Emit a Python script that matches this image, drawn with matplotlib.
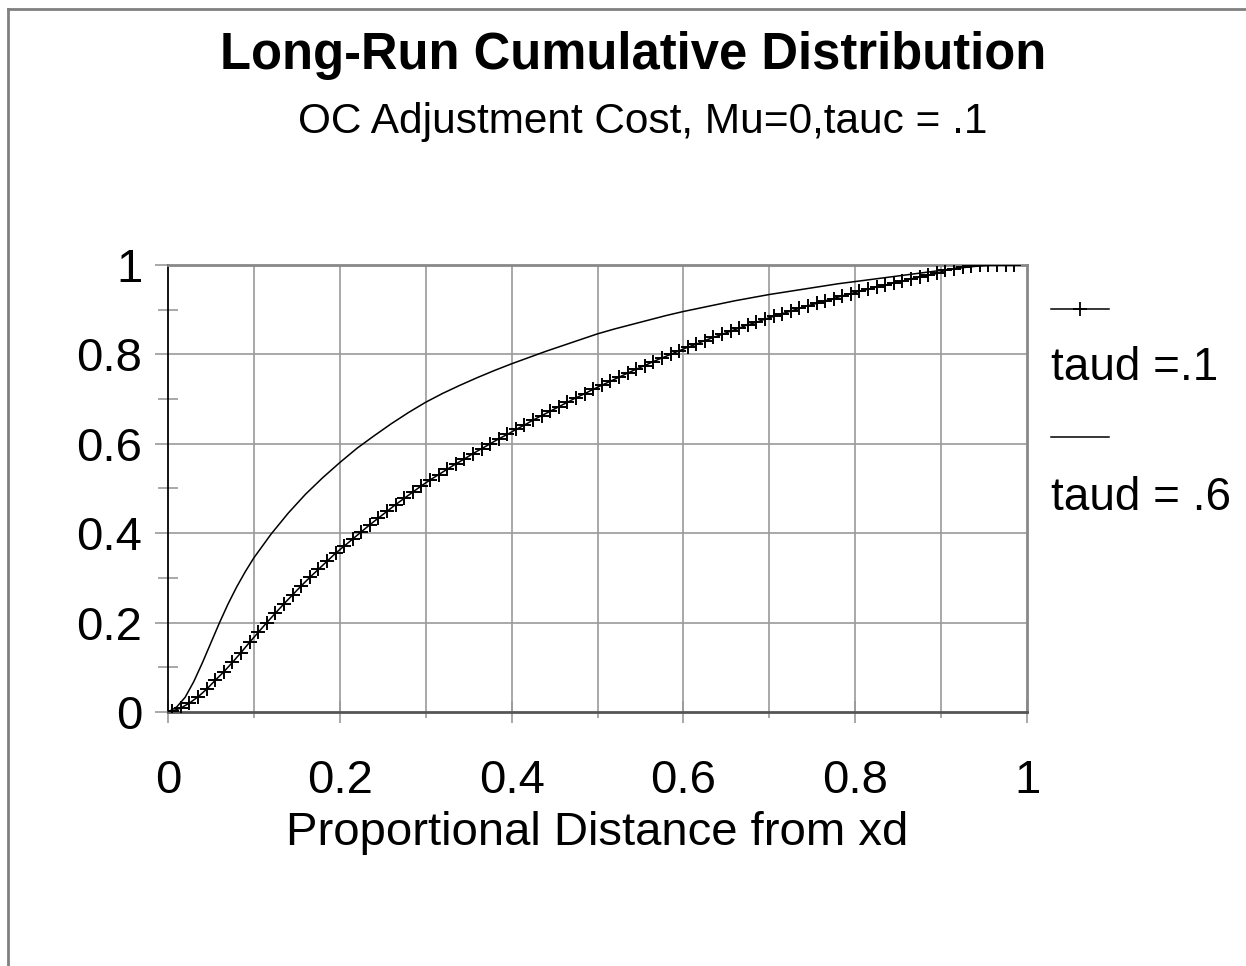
import numpy as np
import matplotlib.pyplot as plt
from matplotlib.lines import Line2D
from matplotlib.ticker import MultipleLocator

plt.rcParams["font.family"] = ["Liberation Sans", "DejaVu Sans"]

# =====================================================
# DATA
# =====================================================

# taud = .1 -> one marker every 0.01
x_taud1 = np.arange(0.005, 0.99, 0.01)
y_taud1 = [
    0.002, 0.009, 0.020, 0.034, 0.051, 0.071, 0.090, 0.111, 0.133, 0.156,
    0.178, 0.200, 0.221, 0.242, 0.262, 0.282, 0.301, 0.319, 0.337, 0.355,
    0.371, 0.387, 0.403, 0.419, 0.434, 0.449, 0.464, 0.478, 0.492, 0.506,
    0.519, 0.531, 0.543, 0.555, 0.566, 0.578, 0.589, 0.600, 0.611, 0.621,
    0.632, 0.642, 0.653, 0.663, 0.673, 0.683, 0.693, 0.703, 0.712, 0.722,
    0.731, 0.740, 0.749, 0.758, 0.767, 0.775, 0.784, 0.792, 0.800, 0.808,
    0.816, 0.823, 0.831, 0.838, 0.845, 0.852, 0.859, 0.866, 0.872, 0.879,
    0.885, 0.891, 0.897, 0.903, 0.909, 0.914, 0.920, 0.925, 0.931, 0.936,
    0.941, 0.946, 0.951, 0.955, 0.960, 0.964, 0.969, 0.973, 0.977, 0.981,
    0.988, 0.992, 0.995, 0.997, 0.999, 1.000, 1.000, 1.000, 1.000,
]

# taud = .6 -> plain line
x_taud6 = [
    0.00, 0.01, 0.02, 0.03, 0.04, 0.05, 0.06, 0.07, 0.08, 0.09, 0.10,
    0.12, 0.14, 0.16, 0.18, 0.20, 0.22, 0.24, 0.26, 0.28, 0.30,
    0.32, 0.34, 0.36, 0.38, 0.40, 0.42, 0.44, 0.46, 0.48, 0.50,
    0.52, 0.54, 0.56, 0.58, 0.60, 0.62, 0.64, 0.66, 0.68, 0.70,
    0.72, 0.74, 0.76, 0.78, 0.80, 0.82, 0.84, 0.86, 0.88, 0.90,
    0.92, 0.94, 0.96, 0.98,
]
y_taud6 = [
    0.000, 0.011, 0.033, 0.068, 0.110, 0.155, 0.200, 0.242, 0.280, 0.314, 0.345,
    0.398, 0.445, 0.487, 0.524, 0.558, 0.590, 0.618, 0.645, 0.670, 0.693,
    0.713, 0.731, 0.748, 0.764, 0.779, 0.793, 0.807, 0.820, 0.833, 0.846,
    0.857, 0.867, 0.877, 0.887, 0.896, 0.904, 0.912, 0.920, 0.927, 0.934,
    0.940, 0.946, 0.952, 0.958, 0.963, 0.968, 0.973, 0.978, 0.983, 0.988,
    0.993, 0.997, 1.000, 1.000,
]

labels = ["taud =.1", "taud = .6"]

# =====================================================
# FIGURE
# =====================================================

W, H = 1246, 966
fig = plt.figure(figsize=(W / 100, H / 100), dpi=100)
ax = fig.add_axes([168 / W, 1 - 712 / H, (1027 - 168) / W, (712 - 265) / H])

GRID = "#9a9a9a"

ax.plot(x_taud1, y_taud1, color="black", lw=1.1, marker="+",
        ms=10, mew=1.4, zorder=3)
ax.plot(x_taud6, y_taud6, color="black", lw=1.1, zorder=3)

ax.set_xlim(0, 1)
ax.set_ylim(0, 1)

# grid: verticals every 0.1, horizontals every 0.2
for gx in np.arange(0.1, 1.0, 0.1):
    ax.axvline(gx, color=GRID, lw=1.2, zorder=1)
for gy in np.arange(0.2, 1.0, 0.2):
    ax.axhline(gy, color=GRID, lw=1.2, zorder=1)

ax.xaxis.set_major_locator(MultipleLocator(0.2))
ax.xaxis.set_minor_locator(MultipleLocator(0.1))
ax.yaxis.set_major_locator(MultipleLocator(0.2))
ax.yaxis.set_minor_locator(MultipleLocator(0.1))
ax.xaxis.set_major_formatter(plt.FuncFormatter(lambda v, p: f"{v:g}"))
ax.yaxis.set_major_formatter(plt.FuncFormatter(lambda v, p: f"{v:g}"))

ax.tick_params(axis="x", which="major", direction="inout", length=16,
               width=1.2, color=GRID, labelsize=34, pad=26)
ax.tick_params(axis="x", which="minor", direction="out", length=4.5,
               width=1.2, color=GRID)
ax.tick_params(axis="y", which="major", direction="out", length=9.5,
               width=1.2, color=GRID, labelsize=34, pad=9)
ax.tick_params(axis="y", which="minor", direction="inout", length=14,
               width=1.2, color=GRID)

ax.spines["left"].set_color("black")
ax.spines["left"].set_linewidth(1.3)
ax.spines["bottom"].set_color("#555555")
ax.spines["bottom"].set_linewidth(2)
ax.spines["top"].set_color("#888888")
ax.spines["top"].set_linewidth(2)
ax.spines["right"].set_color("#888888")
ax.spines["right"].set_linewidth(2)

ax.set_xlabel("Proportional Distance from xd", fontsize=34)
ax.xaxis.set_label_coords(0.5, -0.222)

# titles
fig.text(633 / W, 1 - 55 / H, "Long-Run Cumulative Distribution",
         ha="center", va="center", fontsize=36.5, fontweight="bold")
fig.text(643 / W, 1 - 122 / H, "OC Adjustment Cost, Mu=0,tauc = .1",
         ha="center", va="center", fontsize=30.5)

# legend drawn by hand: sample line above each label
fig.add_artist(Line2D([1051 / W, 1109 / W], [1 - 309 / H, 1 - 309 / H],
                      color="black", lw=1.1))
fig.add_artist(Line2D([1080 / W], [1 - 309 / H], color="black",
                      marker="+", ms=10, mew=1.3))
fig.text(1051 / W, 1 - 368 / H, labels[0], ha="left", va="center", fontsize=33)
fig.add_artist(Line2D([1051 / W, 1109 / W], [1 - 437 / H, 1 - 437 / H],
                      color="black", lw=1.1))
fig.text(1051 / W, 1 - 498 / H, labels[1], ha="left", va="center", fontsize=33)

# outer frame (left and top edges visible in the reference)
fig.add_artist(Line2D([8 / W, 8 / W], [0, 1 - 9 / H], color="#808080", lw=2))
fig.add_artist(Line2D([8 / W, 1], [1 - 9 / H, 1 - 9 / H], color="#808080", lw=2))

fig.savefig("out.png", dpi=100)
